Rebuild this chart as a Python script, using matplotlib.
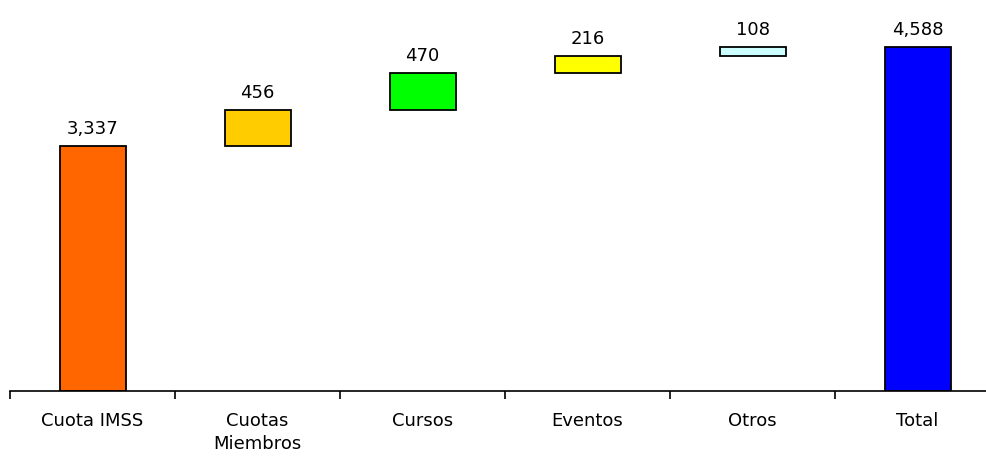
import matplotlib

matplotlib.use("Agg")
import matplotlib.pyplot as plt

categories = ["Cuota IMSS", "Cuotas\nMiembros", "Cursos", "Eventos", "Otros", "Total"]
values = [3337, 456, 470, 216, 108, 4588]
colors = ["#FF6600", "#FFCC00", "#00FF00", "#FFFF00", "#CCFFFF", "#0000FF"]

# axis floor sits above zero in the original, like the source spreadsheet chart
Y_MIN, Y_MAX = 240, 5182

fig = plt.figure(figsize=(9.87, 4.59), dpi=100)
ax = fig.add_axes([10 / 987, 1 - 391 / 459, 990 / 987, 391 / 459])

bottoms, heights = [], []
running = 0
for i, v in enumerate(values):
    if i == 0 or i == len(values) - 1:
        bottoms.append(Y_MIN)
        heights.append(v - Y_MIN)
        running = v
    else:
        bottoms.append(running)
        heights.append(v)
        running += v

x = list(range(len(categories)))
ax.bar(x, heights, bottom=bottoms, width=0.4, color=colors, edgecolor="black", linewidth=1.3)

for xi, b, h, v in zip(x, bottoms, heights, values):
    ax.text(xi, b + h + 100, f"{v:,}", ha="center", va="bottom", fontsize=13)

ax.set_xlim(-0.5, len(categories) - 0.5)
ax.set_ylim(Y_MIN, Y_MAX)
for side in ("top", "right", "left"):
    ax.spines[side].set_visible(False)
ax.spines["bottom"].set_linewidth(1.2)
ax.set_yticks([])

# ticks at category boundaries, labels centered without tick marks
ax.set_xticks([i - 0.5 for i in range(len(categories) + 1)], minor=False)
ax.set_xticklabels([])
ax.tick_params(axis="x", direction="out", length=6, width=1.2)
ax.set_xticks(x, minor=True)
ax.set_xticklabels(categories, minor=True, fontsize=13, linespacing=1.35)
ax.tick_params(axis="x", which="minor", length=0, pad=15)

fig.savefig("out.png", dpi=100)
